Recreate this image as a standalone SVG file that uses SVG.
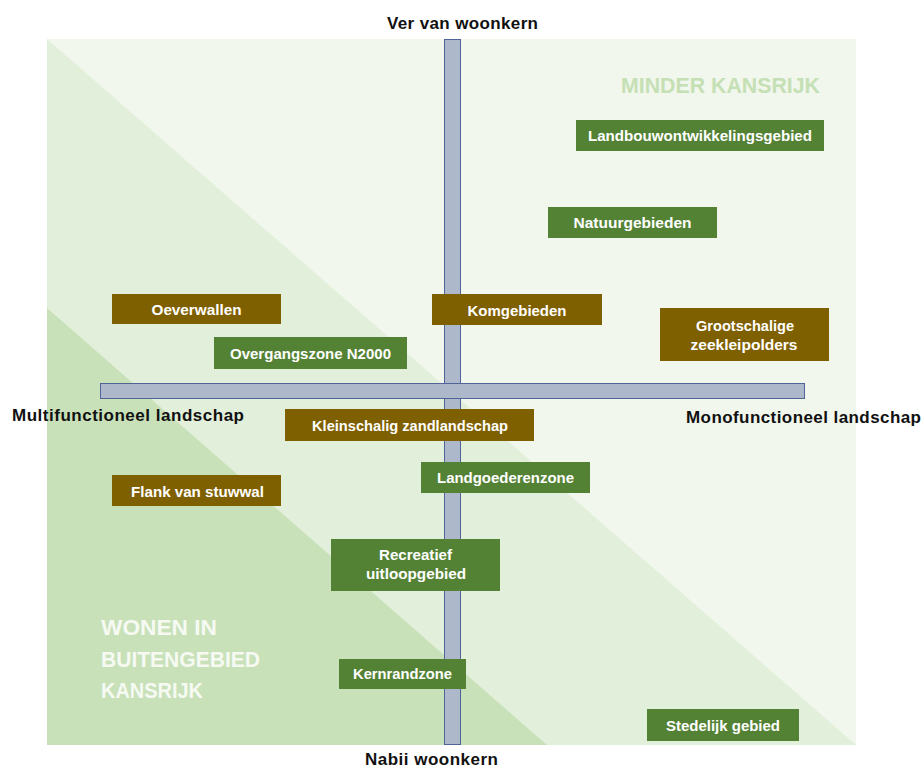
<svg xmlns="http://www.w3.org/2000/svg" width="924" height="769" viewBox="0 0 924 769">
  <style>
    .axis-label { font-family: "Liberation Sans", Arial, sans-serif; font-weight: bold; font-size: 17px; fill: #111111; }
    .box-label { font-family: "Liberation Sans", Arial, sans-serif; font-weight: bold; font-size: 15px; fill: #ffffff; text-anchor: middle; }
    .zone-label { font-family: "Liberation Sans", Arial, sans-serif; font-weight: bold; font-size: 21.5px; }
    .brown { fill: #7f6000; }
    .green { fill: #548235; }
    .axis { fill: #adb9ca; stroke: #51649a; stroke-width: 1; }
  </style>

  <!-- background zones -->
  <g id="zones">
    <rect x="47" y="39" width="809" height="706" fill="#f1f7ed"/>
    <polygon points="47,39 856,745 47,745" fill="#e2efda"/>
    <polygon points="47,308 547,745 47,745" fill="#c8e1b9"/>
    <text class="zone-label" x="621" y="93" fill="#c5e0b4" textLength="199" lengthAdjust="spacingAndGlyphs">MINDER KANSRIJK</text>
    <g fill="#f6faf3">
      <text class="zone-label" x="101" y="635" textLength="116" lengthAdjust="spacingAndGlyphs">WONEN IN</text>
      <text class="zone-label" x="101" y="667" textLength="159" lengthAdjust="spacingAndGlyphs">BUITENGEBIED</text>
      <text class="zone-label" x="101" y="698" textLength="102" lengthAdjust="spacingAndGlyphs">KANSRIJK</text>
    </g>
  </g>

  <!-- axes -->
  <g id="connectors">
    <rect class="axis" x="444.5" y="39.5" width="16" height="705"/>
    <rect class="axis" x="100.5" y="383.5" width="704" height="15"/>
    <rect x="445" y="384" width="15" height="14" fill="#adb9ca"/>
  </g>

  <!-- axis labels -->
  <g id="axis-labels">
    <text class="axis-label" x="387" y="29" textLength="151">Ver van woonkern</text>
    <text class="axis-label" x="365" y="765" textLength="133">Nabii woonkern</text>
    <text class="axis-label" x="12" y="421" textLength="232">Multifunctioneel landschap</text>
    <text class="axis-label" x="686" y="423" textLength="235">Monofunctioneel landschap</text>
  </g>

  <!-- area nodes -->
  <g id="landbouwontwikkelingsgebied">
    <rect class="green" x="576" y="120" width="248" height="31"/>
    <text class="box-label" x="700" y="141" textLength="224" lengthAdjust="spacingAndGlyphs">Landbouwontwikkelingsgebied</text>
  </g>
  <g id="natuurgebieden">
    <rect class="green" x="548" y="207" width="169" height="31"/>
    <text class="box-label" x="632.5" y="228" textLength="118" lengthAdjust="spacingAndGlyphs">Natuurgebieden</text>
  </g>
  <g id="oeverwallen">
    <rect class="brown" x="112" y="294" width="169" height="30"/>
    <text class="box-label" x="196.5" y="315" textLength="90" lengthAdjust="spacingAndGlyphs">Oeverwallen</text>
  </g>
  <g id="komgebieden">
    <rect class="brown" x="432" y="294" width="170" height="31"/>
    <text class="box-label" x="517" y="316" textLength="99" lengthAdjust="spacingAndGlyphs">Komgebieden</text>
  </g>
  <g id="grootschalige-zeekleipolders">
    <rect class="brown" x="660" y="308" width="169" height="53"/>
    <text class="box-label" x="745" y="331" textLength="98" lengthAdjust="spacingAndGlyphs">Grootschalige</text>
    <text class="box-label" x="744" y="350" textLength="107" lengthAdjust="spacingAndGlyphs">zeekleipolders</text>
  </g>
  <g id="overgangszone-n2000">
    <rect class="green" x="214" y="337" width="193" height="32"/>
    <text class="box-label" x="310.5" y="359" textLength="161" lengthAdjust="spacingAndGlyphs">Overgangszone N2000</text>
  </g>
  <g id="kleinschalig-zandlandschap">
    <rect class="brown" x="285" y="409" width="249" height="32"/>
    <text class="box-label" x="410" y="431" textLength="196" lengthAdjust="spacingAndGlyphs">Kleinschalig zandlandschap</text>
  </g>
  <g id="landgoederenzone">
    <rect class="green" x="421" y="462" width="169" height="31"/>
    <text class="box-label" x="505.5" y="483" textLength="137" lengthAdjust="spacingAndGlyphs">Landgoederenzone</text>
  </g>
  <g id="flank-van-stuwwal">
    <rect class="brown" x="112" y="475" width="169" height="31"/>
    <text class="box-label" x="197.5" y="497" textLength="133" lengthAdjust="spacingAndGlyphs">Flank van stuwwal</text>
  </g>
  <g id="recreatief-uitloopgebied">
    <rect class="green" x="331" y="539" width="169" height="52"/>
    <text class="box-label" x="415.5" y="560" textLength="73" lengthAdjust="spacingAndGlyphs">Recreatief</text>
    <text class="box-label" x="416" y="579" textLength="100" lengthAdjust="spacingAndGlyphs">uitloopgebied</text>
  </g>
  <g id="kernrandzone">
    <rect class="green" x="339" y="659" width="127" height="30"/>
    <text class="box-label" x="402.5" y="679" textLength="99" lengthAdjust="spacingAndGlyphs">Kernrandzone</text>
  </g>
  <g id="stedelijk-gebied">
    <rect class="green" x="647" y="709" width="152" height="32"/>
    <text class="box-label" x="723" y="731" textLength="114" lengthAdjust="spacingAndGlyphs">Stedelijk gebied</text>
  </g>
</svg>
